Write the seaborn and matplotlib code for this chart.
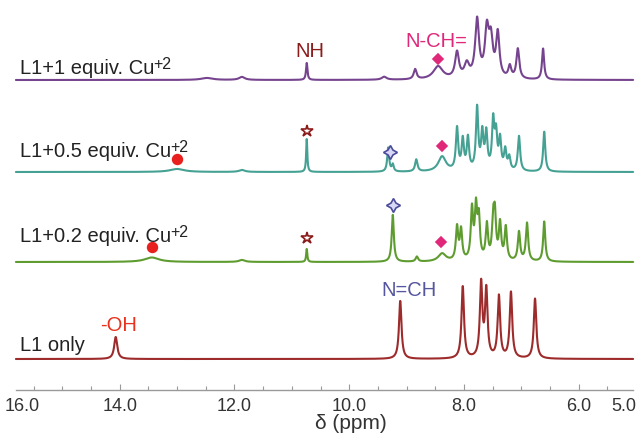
import numpy as np
import pandas as pd
import matplotlib
matplotlib.use("Agg")
import matplotlib.pyplot as plt
import seaborn as sns
from matplotlib.ticker import FixedLocator, FixedFormatter, MultipleLocator

# ---------------- data ----------------
# peak lists: centre (ppm), height (a.u.), half width (ppm)
l1_ppm = [14.07, 9.11, 8.02, 7.70, 7.61, 7.39, 7.18, 6.76]
l1_height = [22, 58, 72, 74, 67, 62, 66, 60]
l1_width = [0.032, 0.026, 0.026, 0.026, 0.026, 0.026, 0.026, 0.026]

cu02_ppm = [13.44, 11.87, 10.74, 9.24, 8.82, 8.38, 8.12, 8.05, 7.86, 7.79,
            7.74, 7.60, 7.49, 7.46, 7.37, 7.27, 7.04, 6.90, 6.60]
cu02_height = [4.5, 2, 13, 47, 5, 8, 33, 30, 50, 50,
               40, 35, 36, 40, 36, 33, 29, 38, 40]
cu02_width = [0.15, 0.06, 0.012, 0.022, 0.025, 0.08, 0.024, 0.024, 0.024, 0.024,
              0.024, 0.024, 0.024, 0.024, 0.024, 0.024, 0.024, 0.024, 0.022]

cu05_ppm = [13.00, 11.87, 10.74, 9.32, 9.24, 8.83, 8.38, 8.12, 8.02, 7.93,
            7.77, 7.68, 7.61, 7.49, 7.44, 7.37, 7.28, 7.21, 7.04, 6.60]
cu05_height = [3, 2, 33, 24, 7, 12, 15, 42, 30, 32,
               62, 36, 36, 48, 34, 30, 20, 13, 35, 40]
cu05_width = [0.15, 0.06, 0.012, 0.02, 0.02, 0.025, 0.08, 0.024, 0.024, 0.024,
              0.024, 0.024, 0.024, 0.024, 0.024, 0.024, 0.024, 0.024, 0.024, 0.022]

cu1_ppm = [12.48, 11.87, 10.74, 9.39, 8.85, 8.45, 8.12, 7.95, 7.77, 7.60,
           7.53, 7.41, 7.20, 7.06, 6.62]
cu1_height = [2, 3, 17, 3, 10, 13, 26, 14, 58, 46,
              36, 44, 12, 30, 31]
cu1_width = [0.12, 0.06, 0.015, 0.05, 0.03, 0.1, 0.04, 0.05, 0.04, 0.04,
             0.04, 0.035, 0.03, 0.03, 0.022]

trace_names = ["L1 only", "L1+0.2 equiv. Cu", "L1+0.5 equiv. Cu", "L1+1 equiv. Cu"]
trace_superscripts = ["", "+2", "+2", "+2"]
tick_values = [16.0, 14.0, 12.0, 10.0, 8.0, 6.0, 5.0]
tick_labels = ["16.0", "14.0", "12.0", "10.0", "8.0", "6.0", "5.0"]
spectral_window = (15.81, 5.05)

# ---------------- layout / style ----------------
trace_offsets = [31, 128, 218, 310]
trace_colors = ["#9e2b2b", "#5f9c30", "#45a193", "#76448e"]
label_baselines = [40, 149, 234, 317]

sns.set_theme(style="white")
plt.rcParams["font.family"] = ["Liberation Sans", "DejaVu Sans"]

x = np.linspace(spectral_window[0], spectral_window[1], 6000)


def spectrum(xv, centres, heights, widths):
    xv = np.asarray(xv, dtype=float)
    y = np.zeros_like(xv)
    for c, h, w in zip(centres, heights, widths):
        y = y + h * w ** 2 / ((xv - c) ** 2 + w ** 2)
    return y


peak_sets = [(l1_ppm, l1_height, l1_width),
             (cu02_ppm, cu02_height, cu02_width),
             (cu05_ppm, cu05_height, cu05_width),
             (cu1_ppm, cu1_height, cu1_width)]

frames = []
for name, (c, h, w), off in zip(trace_names, peak_sets, trace_offsets):
    frames.append(pd.DataFrame({"ppm": x, "signal": off + spectrum(x, c, h, w), "trace": name}))
df = pd.concat(frames, ignore_index=True)

fig = plt.figure(figsize=(6.39, 4.39), dpi=100)
ax = fig.add_axes([5 / 639, 48 / 439, 631 / 639, 391 / 439])

sns.lineplot(data=df, x="ppm", y="signal", hue="trace", hue_order=trace_names,
             palette=dict(zip(trace_names, trace_colors)), legend=False,
             estimator=None, sort=False, linewidth=1.5, ax=ax)

ax.set_xlim(16.0, 5.0)
ax.set_ylim(0, 391)
ax.set_ylabel("")
ax.set_yticks([])
for s in ["top", "right", "left"]:
    ax.spines[s].set_visible(False)
ax.spines["bottom"].set_color("#9a9a9a")
ax.spines["bottom"].set_linewidth(1.0)
ax.spines["bottom"].set_bounds(spectral_window[0], spectral_window[1])

ax.xaxis.set_major_locator(FixedLocator(tick_values))
ax.xaxis.set_major_formatter(FixedFormatter(tick_labels))
ax.xaxis.set_minor_locator(MultipleLocator(0.5))
ax.tick_params(axis="x", which="major", direction="in", length=4, width=0.8,
               color="#9a9a9a", labelsize=13, labelcolor="#333333", pad=5, bottom=True)
ax.tick_params(axis="x", which="minor", direction="in", length=3, width=0.8,
               color="#9a9a9a", bottom=True)
ax.set_xlabel("δ (ppm)", fontsize=15, color="#333333")
ax.xaxis.set_label_coords(0.548, -0.058)

# keep the edge tick labels inside the figure
fig.canvas.draw()
tl = ax.get_xticklabels()
tl[0].set_horizontalalignment("left")
tl[-1].set_horizontalalignment("right")
ticks = ax.xaxis.get_major_ticks()
ticks[0].tick1line.set_visible(False)
ticks[-1].tick1line.set_visible(False)

# trace names with superscripts
for name, sup, yb in zip(trace_names, trace_superscripts, label_baselines):
    t = ax.text(15.74, yb, name, fontsize=14.5, color="#222222", ha="left", va="baseline")
    if sup:
        ax.annotate(sup, xy=(1.0, 1.0), xycoords=t, xytext=(-0.5, 1.5),
                    textcoords="offset points", ha="left", va="top",
                    fontsize=11.5, color="#222222")


def top_of(idx, ppm):
    c, h, w = peak_sets[idx]
    return trace_offsets[idx] + float(spectrum([ppm], c, h, w)[0])


# peak annotations
ax.annotate("NH", xy=(10.74, top_of(3, 10.74)), xytext=(2, 9), textcoords="offset points",
            ha="center", va="center", fontsize=14.5, color="#8b1c1c")
ax.annotate("N-CH=", xy=(8.45, top_of(3, 8.45)), xytext=(-1, 18), textcoords="offset points",
            ha="center", va="center", fontsize=14.5, color="#e0287a")
ax.annotate("-OH", xy=(14.07, top_of(0, 14.07)), xytext=(2, 9), textcoords="offset points",
            ha="center", va="center", fontsize=14.5, color="#e8321e")
ax.annotate("N=CH", xy=(9.11, top_of(0, 9.11)), xytext=(6, 8), textcoords="offset points",
            ha="center", va="center", fontsize=14.5, color="#5555a0")

# markers above peaks
marker_specs = [
    # (trace idx, ppm, gap, marker, size, face, edge)
    (3, 8.45, 7, "D", 5, "#e0287a", "#e0287a"),
    (2, 13.00, 10, "o", 7, "#e8201e", "#e8201e"),
    (2, 10.74, 8, "*", 9, "white", "#8b1c1c"),
    (2, 9.29, 11, (4, 1, 0), 10, "#d8d8f5", "#4b4b9b"),
    (2, 8.38, 10, "D", 5, "#e0287a", "#e0287a"),
    (1, 13.44, 10, "o", 7, "#e8201e", "#e8201e"),
    (1, 10.74, 11, "*", 9, "white", "#8b1c1c"),
    (1, 9.24, 10, (4, 1, 0), 10, "#d8d8f5", "#4b4b9b"),
    (1, 8.40, 12, "D", 5, "#e0287a", "#e0287a"),
]
for idx, ppm, gap, mk, ms, fc, ec in marker_specs:
    ax.plot([ppm], [top_of(idx, ppm) + gap], marker=mk, markersize=ms,
            markerfacecolor=fc, markeredgecolor=ec, markeredgewidth=1.2, linestyle="none")

fig.savefig("out.png", dpi=100)
